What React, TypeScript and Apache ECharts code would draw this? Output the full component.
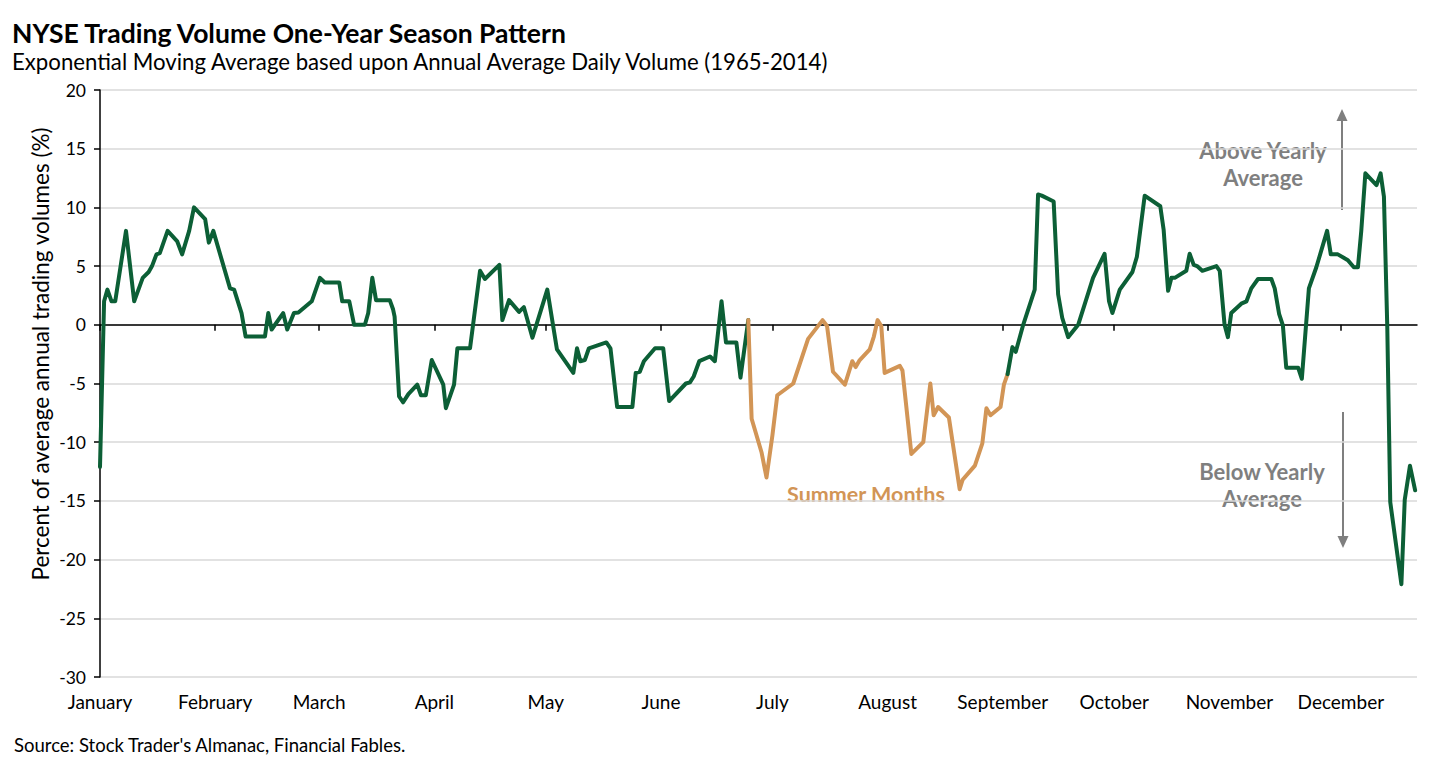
import React, { useEffect, useRef } from "react";
import * as echarts from "echarts";

// Month labels placed at the first day of each month (day-of-year, 0-based)
const MONTHS = ["January", "February", "March", "April", "May", "June", "July", "August", "September", "October", "November", "December"];
const MONTH_START_DAYS = [0, 31, 59, 90, 120, 151, 181, 212, 243, 273, 304, 334];
const X_MAX = 354.5;
const Y_MIN = -30;
const Y_MAX = 20;
const Y_STEP = 5;

// [day of year, % of average annual trading volume]
const winterSpring: [number, number][] = [
  [0, -12.1], [1.1, 2.0], [2.0, 3.0], [3.1, 2.0], [4.1, 2.0], [7.0, 8.0], [9.2, 2.0], [11.5, 4.0],
  [13.1, 4.5], [14.0, 5.0], [15.2, 6.0], [16.1, 6.1], [18.2, 8.0], [20.8, 7.1], [22.1, 6.0], [24.0, 8.0],
  [25.3, 10.0], [28.3, 9.0], [29.3, 7.0], [30.5, 8.0], [35.0, 3.1], [36.1, 3.0], [38.1, 1.0], [39.2, -1.0],
  [44.4, -1.0], [45.3, 1.0], [46.2, -0.4], [49.3, 1.0], [50.4, -0.4], [52.2, 1.0], [53.4, 1.05], [57.0, 2.0],
  [59.2, 4.0], [60.5, 3.6], [64.4, 3.6], [65.2, 2.0], [67.1, 2.0], [68.4, 0], [71.3, 0], [72.2, 1.0],
  [73.3, 4.0], [74.3, 2.1], [78.0, 2.1], [78.9, 1.3], [79.3, 0.7], [80.5, -6.1], [81.6, -6.6], [83.0, -5.9],
  [85.4, -5.1], [86.4, -6.0], [87.7, -6.0], [89.3, -3.0], [92.4, -5.1], [93.1, -7.1], [95.3, -5.1], [96.2, -2.0],
  [99.6, -2.0], [102.3, 4.6], [103.6, 3.9], [107.5, 5.1], [108.3, 0.4], [110.1, 2.1], [112.8, 1.1], [114.1, 1.5],
  [116.4, -1.1], [120.4, 3.0], [123.0, -2.1], [127.4, -4.1], [128.4, -2.0], [129.3, -3.1], [130.5, -3.0], [131.6, -2.0],
  [136.3, -1.5], [137.4, -2.0], [139.2, -7.0], [143.3, -7.0], [144.2, -4.1], [145.3, -4.0], [146.4, -3.1], [149.4, -2.0],
  [151.6, -2.0], [153.2, -6.5], [157.7, -5.0], [158.8, -4.9], [159.8, -4.4], [161.3, -3.1], [164.2, -2.7], [165.5, -3.1],
  [167.3, 2.0], [168.5, -1.5], [171.3, -1.5], [172.4, -4.5], [174.5, 0.4],
];

const summerMonths: [number, number][] = [
  [174.5, 0.4], [175.4, -8.0], [178.1, -10.9], [179.4, -13.0], [181.0, -9.4], [182.3, -6.0], [186.6, -5.0], [190.6, -1.2],
  [194.5, 0.4], [195.7, -0.1], [197.3, -4.0], [200.5, -5.1], [202.5, -3.1], [203.4, -3.6], [204.5, -3.0], [207.2, -2.1],
  [208.3, -1.0], [209.3, 0.4], [210.3, -0.1], [211.2, -4.1], [215.3, -3.5], [216.0, -3.9], [218.4, -11.0], [221.6, -10.0],
  [223.5, -5.0], [224.4, -7.7], [225.6, -7.0], [228.5, -7.9], [231.4, -14.0], [232.2, -13.2], [235.5, -12.0], [237.5, -10.1],
  [238.6, -7.1], [239.7, -7.7], [242.4, -7.0], [243.3, -5.1], [244.3, -4.2],
];

const autumnWinter: [number, number][] = [
  [244.3, -4.2], [245.6, -1.9], [246.5, -2.3], [248.5, 0], [251.6, 3.0], [252.5, 11.1], [253.5, 11.0], [256.7, 10.5],
  [257.9, 2.6], [259.0, 0.6], [260.6, -1.05], [263.3, 0], [267.3, 4.0], [270.4, 6.05], [271.6, 2.0], [272.5, 1.0],
  [274.5, 3.0], [277.9, 4.5], [279.1, 5.8], [281.2, 11.0], [285.4, 10.1], [286.3, 8.1], [287.5, 2.9], [288.4, 4.0],
  [289.3, 4.0], [292.4, 4.6], [293.3, 6.05], [294.4, 5.1], [295.3, 5.0], [296.7, 4.6], [300.5, 5.0], [301.4, 4.6],
  [302.7, 0], [303.6, -1.05], [304.5, 1.0], [307.2, 1.8], [308.6, 2.0], [309.9, 3.1], [311.7, 3.9], [315.3, 3.9],
  [316.2, 3.1], [317.4, 0.9], [318.4, -0.05], [319.3, -3.65], [322.5, -3.65], [323.5, -4.6], [325.4, 3.1], [327.4, 4.9],
  [330.3, 8.0], [331.3, 6.0], [333.2, 6.0], [335.9, 5.5], [337.5, 4.9], [338.6, 4.9], [339.5, 8.0], [340.6, 12.9],
  [343.6, 11.9], [344.7, 12.9], [345.6, 10.9], [346.5, -0.2], [347.3, -15.1], [350.3, -22.1], [351.2, -14.9], [352.6, -12.0],
  [354.0, -14.1],
];

const GREEN = "#0c5f36";
const ORANGE = "#d29556";
const GRAY = "#7f7f7f";
const FONT = "Lato, 'Open Sans', sans-serif";

export default function App() {
  const ref = useRef<HTMLDivElement>(null);

  useEffect(() => {
    document.body.style.margin = "0";
    if (!ref.current) return;
    const chart = echarts.init(ref.current, undefined, { renderer: "svg" });

    const lineSeries = (data: [number, number][], color: string) => ({
      type: "line",
      xAxisIndex: 0,
      yAxisIndex: 0,
      data,
      symbol: "none",
      smooth: false,
      lineStyle: { color, width: 4, join: "round", cap: "round" },
      z: 5,
    });

    const annot = (text: string, x: number, y: number, fill: string, fontSize: number) => ({
      type: "text",
      x,
      y,
      style: { text, fontSize, fontWeight: "bold", fontFamily: FONT, fill, align: "center", verticalAlign: "middle" },
    });

    chart.setOption({
      animation: false,
      backgroundColor: "#ffffff",
      textStyle: { fontFamily: FONT },
      grid: { left: 100, right: 39, top: 90, bottom: 95, containLabel: false },
      xAxis: [
        {
          type: "value",
          min: 0,
          max: X_MAX,
          position: "bottom",
          axisLine: { show: false, onZero: false },
          axisTick: { show: false },
          splitLine: { show: false },
          axisLabel: {
            customValues: MONTH_START_DAYS,
            formatter: (v: number) => MONTHS[MONTH_START_DAYS.indexOf(v)] ?? "",
            color: "#000",
            fontSize: 19,
            fontFamily: FONT,
            margin: 15,
          },
        },
        {
          type: "value",
          min: 0,
          max: X_MAX,
          position: "bottom",
          axisLine: { show: true, onZero: true, lineStyle: { color: "#000", width: 1.5 } },
          axisTick: { show: true, customValues: MONTH_START_DAYS, length: 6, inside: false, lineStyle: { color: "#000", width: 1.5 } },
          axisLabel: { show: false },
          splitLine: { show: false },
        },
      ],
      yAxis: {
        type: "value",
        min: Y_MIN,
        max: Y_MAX,
        interval: Y_STEP,
        axisLine: { show: true, onZero: false, lineStyle: { color: "#000", width: 1.5 } },
        axisTick: { show: true, length: 6, inside: false, lineStyle: { color: "#000", width: 1.5 } },
        axisLabel: { color: "#000", fontSize: 17.5, fontFamily: FONT, margin: 14 },
        splitLine: { show: true, lineStyle: { color: "#d9d9d9", width: 1.5 } },
      },
      series: [
        lineSeries(winterSpring, GREEN),
        lineSeries(summerMonths, ORANGE),
        lineSeries(autumnWinter, GREEN),
      ],
      graphic: [
        { type: "text", left: 12, top: 19, style: { text: "NYSE Trading Volume One-Year Season Pattern", fontSize: 26.5, fontWeight: "bold", fontFamily: FONT, fill: "#000" } },
        { type: "text", left: 12, top: 50, style: { text: "Exponential Moving Average based upon Annual Average Daily Volume (1965-2014)", fontSize: 22.2, fontFamily: FONT, fill: "#000" } },
        { type: "text", x: 40, y: 354, rotation: Math.PI / 2, style: { text: "Percent of average annual trading volumes (%)", fontSize: 22.5, fontFamily: FONT, fill: "#000", align: "center", verticalAlign: "middle" } },
        { type: "text", left: 14, top: 735, style: { text: "Source: Stock Trader's Almanac, Financial Fables.", fontSize: 18.5, fontFamily: FONT, fill: "#000" } },
        annot("Summer Months", 866, 494, ORANGE, 21.5),
        annot("Above Yearly", 1263, 150, GRAY, 22),
        annot("Average", 1263, 177, GRAY, 22),
        annot("Below Yearly", 1262, 471, GRAY, 22),
        annot("Average", 1262, 498, GRAY, 22),
        { type: "line", shape: { x1: 1342, y1: 210, x2: 1342, y2: 119 }, style: { stroke: GRAY, lineWidth: 2 } },
        { type: "polygon", shape: { points: [[1336.5, 121], [1347.5, 121], [1342, 109]] }, style: { fill: GRAY } },
        { type: "line", shape: { x1: 1343, y1: 412, x2: 1343, y2: 538 }, style: { stroke: GRAY, lineWidth: 2 } },
        { type: "polygon", shape: { points: [[1337.5, 536], [1348.5, 536], [1343, 548]] }, style: { fill: GRAY } },
      ],
    });

    return () => chart.dispose();
  }, []);

  return <div ref={ref} style={{ position: "fixed", left: 0, top: 0, width: 1456, height: 772 }} />;
}
